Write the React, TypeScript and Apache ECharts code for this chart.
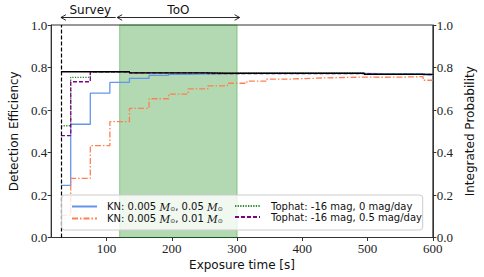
import React, { useEffect, useRef } from 'react';
import * as echarts from 'echarts';

// Exposure-time step edges [s]
const times = [30, 45, 75, 105, 135, 165, 195, 225, 255, 285, 315, 345, 375, 405, 435, 465, 495, 525, 555, 585, 600];
// KN: 0.005 Msun, 0.05 Msun
const knHigh = [0.245, 0.533, 0.679, 0.730, 0.749, 0.763, 0.768, 0.770, 0.771, 0.772, 0.772, 0.772, 0.772, 0.772, 0.772, 0.772, 0.771, 0.771, 0.771, 0.765, 0.765];
// KN: 0.005 Msun, 0.01 Msun
const knLow = [0.105, 0.278, 0.432, 0.545, 0.608, 0.653, 0.675, 0.699, 0.714, 0.726, 0.736, 0.745, 0.748, 0.751, 0.753, 0.755, 0.754, 0.755, 0.757, 0.740, 0.740];
// Tophat: -16 mag, 0 mag/day
const tophatFlat = [0.526, 0.754, 0.780, 0.780, 0.776, 0.776, 0.776, 0.776, 0.773, 0.773, 0.773, 0.773, 0.773, 0.773, 0.773, 0.773, 0.769, 0.769, 0.769, 0.769, 0.769];
// Tophat: -16 mag, 0.5 mag/day
const tophatFade = [0.479, 0.733, 0.779, 0.779, 0.775, 0.775, 0.775, 0.775, 0.771, 0.771, 0.771, 0.771, 0.771, 0.771, 0.771, 0.771, 0.768, 0.768, 0.768, 0.766, 0.766];
// Integrated probability (right axis)
const integratedProb = [0.780, 0.780, 0.780, 0.780, 0.775, 0.775, 0.775, 0.775, 0.773, 0.773, 0.773, 0.773, 0.773, 0.773, 0.773, 0.773, 0.768, 0.768, 0.768, 0.768, 0.768];

const xTicks = [100, 200, 300, 400, 500, 600];
const surveyTime = 30;
const tooStart = 120;
const tooEnd = 300;

const serif = "'Liberation Serif', 'Times New Roman', serif";
const sans = "'DejaVu Sans', sans-serif";

const pairs = (vals: number[]) => times.map((t, i) => [t, vals[i]]);

const labels: Record<string, string> = {
  knHigh: '{n|KN: 0.005 }{m|M}{s|⊙}{n|, 0.05 }{m|M}{s|⊙}',
  knLow: '{n|KN: 0.005 }{m|M}{s|⊙}{n|, 0.01 }{m|M}{s|⊙}',
  tophatFlat: '{n|Tophat: -16 mag, 0 mag/day}',
  tophatFade: '{n|Tophat: -16 mag, 0.5 mag/day}',
};

const rich = {
  n: { fontFamily: sans, fontSize: 10, color: '#111', lineHeight: 10, verticalAlign: 'middle' },
  m: { fontFamily: "'DejaVu Serif', serif", fontStyle: 'italic', fontSize: 10.5, color: '#111', lineHeight: 10 },
  s: { fontFamily: sans, fontSize: 6, color: '#111', lineHeight: 10, verticalAlign: 'bottom', padding: [4, 0, 0, 0] },
};

export default function App() {
  const ref = useRef<HTMLDivElement>(null);
  useEffect(() => {
    if (!ref.current) return;
    const chart = echarts.init(ref.current, undefined, { renderer: 'svg' });
    const axisLine = { show: true, lineStyle: { color: '#333', width: 1 } };
    const legendCommon = {
      orient: 'vertical', top: 196, itemWidth: 25, itemHeight: 10, itemGap: 1,
      formatter: (n: string) => labels[n], z: 20, selectedMode: false,
      itemStyle: { opacity: 0 },
    };
    const option: any = {
      animation: false,
      grid: { left: 47.7, right: 47.3, top: 25, bottom: 39.5, show: true, borderColor: '#333', borderWidth: 1, backgroundColor: 'transparent' },
      xAxis: {
        type: 'value', min: 15, max: 600,
        name: 'Exposure time [s]', nameLocation: 'middle', nameGap: 20,
        nameTextStyle: { fontFamily: sans, fontSize: 12, color: '#111', verticalAlign: 'top' },
        axisLine, splitLine: { show: false },
        axisTick: { show: true, length: 3.5, customValues: xTicks, lineStyle: { color: '#333' } },
        axisLabel: { customValues: xTicks, fontFamily: serif, fontSize: 13, color: '#222', margin: 4 },
      },
      yAxis: [
        {
          type: 'value', min: 0, max: 1, interval: 0.2, position: 'left',
          name: 'Detection Efficiency', nameLocation: 'middle', nameGap: 30, nameRotate: 90,
          nameTextStyle: { fontFamily: sans, fontSize: 12, color: '#111' },
          axisLine, splitLine: { show: false },
          axisTick: { show: true, length: 3.5, lineStyle: { color: '#333' } },
          axisLabel: { fontFamily: serif, fontSize: 13, color: '#222', margin: 4, formatter: (v: number) => v.toFixed(1) },
        },
        {
          type: 'value', min: 0, max: 1, interval: 0.2, position: 'right',
          name: 'Integrated Probability', nameLocation: 'middle', nameGap: 29, nameRotate: 90,
          nameTextStyle: { fontFamily: sans, fontSize: 12, color: '#111' },
          axisLine, splitLine: { show: false },
          axisTick: { show: true, length: 3.5, lineStyle: { color: '#333' } },
          axisLabel: { fontFamily: serif, fontSize: 13, color: '#222', margin: 4, formatter: (v: number) => v.toFixed(1) },
        },
      ],
      legend: [
        { ...legendCommon, data: ['knHigh', 'knLow'], left: 66, textStyle: { rich, padding: [0, 0, 0, 5] } },
        { ...legendCommon, data: ['tophatFlat', 'tophatFade'], left: 229, textStyle: { rich, padding: [0, 0, 0, 6] } },
      ],
      series: [
        {
          name: 'area', type: 'line', data: [], silent: true,
          markArea: { silent: true, itemStyle: { color: 'rgba(0,128,0,0.3)', borderColor: 'rgba(0,128,0,0.35)', borderWidth: 1 }, data: [[{ xAxis: tooStart }, { xAxis: tooEnd }]] },
          markLine: { silent: true, symbol: 'none', label: { show: false }, lineStyle: { color: '#000', type: [4, 2], width: 1.2 }, data: [{ xAxis: surveyTime }] },
        },
        { name: 'knHigh', type: 'line', step: 'end', showSymbol: false, symbol: 'none', data: pairs(knHigh), lineStyle: { color: '#6495ED', width: 1.3 }, itemStyle: { color: '#6495ED' }, z: 3 },
        { name: 'knLow', type: 'line', step: 'end', showSymbol: false, symbol: 'none', data: pairs(knLow), lineStyle: { color: '#FF7F50', width: 1.3, type: [6, 2, 1.5, 2] }, itemStyle: { color: '#FF7F50' }, z: 3 },
        { name: 'tophatFlat', type: 'line', step: 'end', showSymbol: false, symbol: 'none', data: pairs(tophatFlat), lineStyle: { color: '#2e8b2e', width: 1.3, type: [1.3, 1.3] }, itemStyle: { color: '#2e8b2e' }, z: 3 },
        { name: 'tophatFade', type: 'line', step: 'end', showSymbol: false, symbol: 'none', data: pairs(tophatFade), lineStyle: { color: '#800080', width: 1.3, type: [4, 2] }, itemStyle: { color: '#800080' }, z: 3 },
        { name: 'prob', type: 'line', step: 'end', showSymbol: false, symbol: 'none', yAxisIndex: 1, data: pairs(integratedProb), lineStyle: { color: '#000', width: 1.3 }, itemStyle: { color: '#000' }, z: 4 },
      ],
    };
    chart.setOption(option);

    const px = (v: number) => chart.convertToPixel({ xAxisIndex: 0 }, v) as number;
    const x30 = px(surveyTime), x120 = px(tooStart), x300 = px(tooEnd);
    const ay = 17.5;
    const head = (x: number, dir: number) => ({
      type: 'polyline', shape: { points: [[x - dir * 5, ay - 2.8], [x, ay], [x - dir * 5, ay + 2.8]] },
      style: { stroke: '#111', fill: 'none', lineWidth: 0.9 }, z: 30,
    });
    chart.setOption({
      graphic: [
        { type: 'rect', shape: { x: 61.7, y: 195, width: 361, height: 35, r: 3 }, style: { fill: 'rgba(255,255,255,0.8)', stroke: '#cccccc', lineWidth: 1 }, z: 10 },
        { type: 'line', shape: { x1: x30, y1: ay, x2: x120 - 4, y2: ay }, style: { stroke: '#111', lineWidth: 0.9 }, z: 30 },
        head(x30, -1),
        { type: 'text', x: (x30 + x120) / 2, y: 10, style: { text: 'Survey', fontFamily: sans, fontSize: 12, fill: '#111', align: 'center', verticalAlign: 'middle' }, z: 30 },
        { type: 'line', shape: { x1: x120 - 2.5, y1: ay, x2: x300 + 2.5, y2: ay }, style: { stroke: '#111', lineWidth: 0.9 }, z: 30 },
        head(x120 - 2.5, -1),
        head(x300 + 2.5, 1),
        { type: 'text', x: (x120 + x300) / 2, y: 10, style: { text: 'ToO', fontFamily: sans, fontSize: 12, fill: '#111', align: 'center', verticalAlign: 'middle' }, z: 30 },
      ],
    });
    return () => chart.dispose();
  }, []);
  return <div ref={ref} style={{ position: 'fixed', left: 0, top: 0, width: 484, height: 277, background: '#fff' }} />;
}
